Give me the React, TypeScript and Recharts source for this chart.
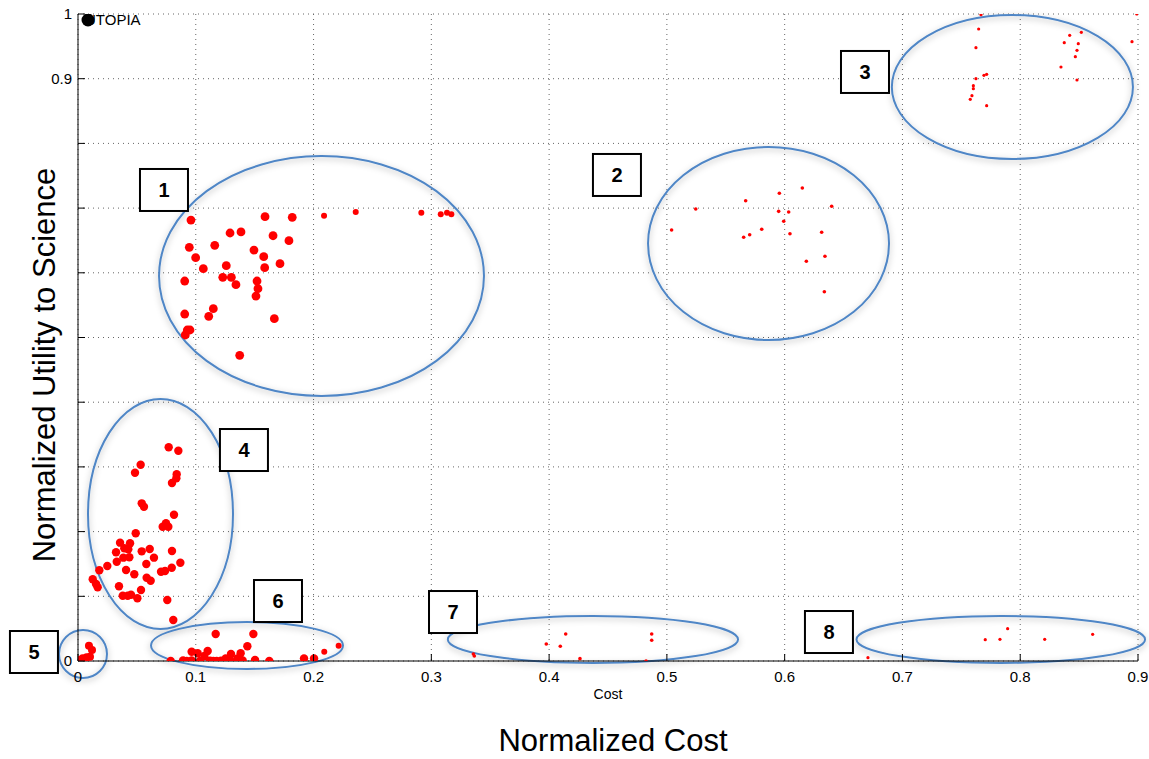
import { ScatterChart, Scatter, XAxis, YAxis, CartesianGrid, ReferenceArea, ReferenceDot } from 'recharts'

type P = [number, number]

const FONT = '"Liberation Sans", Arial, Helvetica, sans-serif'

const xTicks = [0, 0.1, 0.2, 0.3, 0.4, 0.5, 0.6, 0.7, 0.8, 0.9]
const xTickLabels = ['0', '0.1', '0.2', '0.3', '0.4', '0.5', '0.6', '0.7', '0.8', '0.9']
const yTicks = [0, 0.1, 0.2, 0.3, 0.4, 0.5, 0.6, 0.7, 0.8, 0.9, 1]
// labels 0.1-0.8 are hidden under the big axis title in the original
const yTickLabels = ['0', '', '', '', '', '', '', '', '', '0.9', '1']

const utopia: P[] = [[0.0085, 0.9907]]

// cluster 1 - big dots plus the thin tail to the right
const cluster1: P[] = [
  [0.0959, 0.6815], [0.0945, 0.6394], [0.0999, 0.6233], [0.1064, 0.6063], [0.0906, 0.5873],
  [0.1161, 0.6425], [0.1291, 0.6615], [0.1384, 0.6631], [0.1588, 0.6867], [0.1819, 0.6858],
  [0.1656, 0.6573], [0.1791, 0.6496], [0.1494, 0.6352], [0.1577, 0.6249], [0.1585, 0.6079],
  [0.1715, 0.6141], [0.1259, 0.611], [0.1229, 0.593], [0.1302, 0.593], [0.1341, 0.5816],
  [0.152, 0.5873], [0.1528, 0.5754], [0.1511, 0.5641], [0.0906, 0.5363], [0.1149, 0.5445],
  [0.111, 0.5328], [0.1667, 0.5291], [0.0928, 0.5116], [0.0951, 0.5116], [0.0911, 0.5039],
  [0.1373, 0.4725],
]
const cluster1Tail: P[] = [
  [0.2089, 0.6883], [0.2358, 0.694], [0.2915, 0.6929], [0.308, 0.6904], [0.3133, 0.6929], [0.317, 0.6904],
]

const cluster2: P[] = [
  [0.504, 0.6662], [0.5245, 0.6986], [0.5669, 0.7114], [0.5955, 0.7229], [0.615, 0.7311],
  [0.6399, 0.7028], [0.5949, 0.695], [0.6034, 0.694], [0.5992, 0.6796], [0.5805, 0.6672],
  [0.5703, 0.6589], [0.5652, 0.6549], [0.6045, 0.6604], [0.6314, 0.6626], [0.6342, 0.6255],
  [0.6184, 0.6178], [0.6337, 0.5708],
]

const cluster3: P[] = [
  [0.7667, 0.9989], [0.7647, 0.9768], [0.7624, 0.9479], [0.7624, 0.9], [0.7692, 0.9052],
  [0.7715, 0.9068], [0.7602, 0.8892], [0.7602, 0.8846], [0.759, 0.8737], [0.7576, 0.8681],
  [0.7715, 0.8583], [0.8374, 0.9557], [0.842, 0.9671], [0.8519, 0.9717], [0.8493, 0.9541],
  [0.8482, 0.9439], [0.8468, 0.934], [0.8346, 0.9181], [0.8482, 0.898], [0.8949, 0.9572],
  [0.8989, 1.0],
]

const cluster4: P[] = [
  [0.077, 0.3303], [0.0852, 0.325], [0.0532, 0.3034], [0.0484, 0.291], [0.0838, 0.2886],
  [0.0835, 0.2824], [0.0798, 0.2751], [0.0541, 0.2437], [0.056, 0.2385], [0.0815, 0.2261],
  [0.0747, 0.2128], [0.0719, 0.2076], [0.0767, 0.2076], [0.049, 0.1974], [0.0357, 0.1829],
  [0.0442, 0.1819], [0.0393, 0.1742], [0.0427, 0.1726], [0.0323, 0.168], [0.0541, 0.1695],
  [0.0609, 0.1731], [0.0798, 0.17], [0.0385, 0.1597], [0.0436, 0.1603], [0.0645, 0.1597],
  [0.0329, 0.1535], [0.058, 0.1499], [0.0869, 0.1519], [0.0181, 0.1402], [0.0249, 0.1468],
  [0.0408, 0.1406], [0.0796, 0.1442], [0.0705, 0.138], [0.0739, 0.1391], [0.0478, 0.134],
  [0.0583, 0.1287], [0.0617, 0.1241], [0.0125, 0.1263], [0.0153, 0.119], [0.0167, 0.1139],
  [0.0348, 0.1155], [0.0535, 0.1097], [0.038, 0.1009], [0.0422, 0.1009], [0.045, 0.1025],
  [0.0504, 0.0969], [0.0758, 0.0943], [0.0809, 0.0634],
]

const cluster5: P[] = [
  [0.0, 0.0015], [0.004, 0.0041], [0.0074, 0.0057], [0.0102, 0.0067], [0.0119, 0.017], [0.0093, 0.0237],
]

const cluster6: P[] = [
  [0.0787, 0.0], [0.0892, 0.001], [0.0923, 0.0], [0.0965, 0.0144], [0.1016, 0.0119],
  [0.1101, 0.0155], [0.1073, 0.0077], [0.0965, 0.001], [0.1036, 0.0], [0.1121, 0.0005],
  [0.1149, 0.0], [0.1177, 0.0], [0.1214, 0.0005], [0.1254, 0.0041], [0.129, 0.0015],
  [0.1299, 0.0108], [0.1353, 0.004], [0.1169, 0.0417], [0.1381, 0.0119], [0.1398, 0.001],
  [0.1438, 0.0227], [0.1489, 0.0417], [0.1503, 0.0015], [0.1624, 0.0], [0.1919, 0.0041],
  [0.2004, 0.0041],
]
const cluster6Tail: P[] = [[0.2091, 0.0144], [0.2213, 0.0237]]

const cluster7: P[] = [
  [0.3357, 0.0108], [0.3365, 0.0077], [0.3976, 0.0263], [0.4095, 0.0227], [0.4141, 0.0417],
  [0.4262, 0.0036], [0.4823, 0.0], [0.4871, 0.0417], [0.4871, 0.032],
]

const cluster8: P[] = [
  [0.6498, 0.0289], [0.6707, 0.0051], [0.7703, 0.0329], [0.7828, 0.0335], [0.7893, 0.0499],
  [0.8208, 0.0335], [0.8615, 0.0413],
]

// ellipse bounds: x1, x2, y1, y2
const ellipses: [number, number, number, number][] = [
  [0.0688, 0.3447, 0.4096, 0.7805],
  [0.484, 0.6886, 0.496, 0.7944],
  [0.691, 0.8957, 0.776, 0.9985],
  [0.0085, 0.1316, 0.0495, 0.405],
  [-0.0161, 0.0246, -0.0263, 0.0479],
  [0.062, 0.225, -0.0124, 0.0603],
  [0.314, 0.5604, -0.003, 0.0696],
  [0.661, 0.906, -0.003, 0.0696],
]

const boxLabels = ['1', '2', '3', '4', '5', '6', '7', '8']
const boxX = [0.073, 0.4576, 0.6682, 0.1409, -0.0374, 0.1698, 0.3184, 0.6376]
const boxY = [0.728, 0.7512, 0.9104, 0.3261, 0.0139, 0.0927, 0.0757, 0.0448]

const pts = (arr: P[]) => arr.map(([x, y]) => ({ x, y }))

const dot = (r: number, fill = '#ff0000') => (p: any) => (
  <circle cx={p.cx} cy={p.cy} r={r} fill={fill} />
)

function XTick({ x, y, index }: any) {
  return (
    <g>
      <line x1={x} x2={x} y1={y} y2={y - 7} stroke="#000" />
      <text x={x} y={y + 21} textAnchor="middle" fontSize={15} fill="#000" fontFamily={FONT}>
        {xTickLabels[index]}
      </text>
    </g>
  )
}

function YTick({ x, y, index }: any) {
  return (
    <g>
      <line x1={x} x2={x + 7} y1={y} y2={y} stroke="#000" />
      <text x={x - 6} y={y + 5} textAnchor="end" fontSize={15} fill="#000" fontFamily={FONT}>
        {yTickLabels[index]}
      </text>
    </g>
  )
}

export default function App() {
  return (
    <div style={{ position: 'absolute', left: 0, top: 0, width: 1149, height: 759, background: '#fff', fontFamily: FONT }}>
      <ScatterChart width={1149} height={759} margin={{ top: 14, right: 11, bottom: 58, left: 0 }}>
        <defs>
          <filter id="ellShadow" x="-20%" y="-20%" width="140%" height="140%">
            <feDropShadow dx="0" dy="2" stdDeviation="3" floodColor="#000" floodOpacity="0.3" />
          </filter>
        </defs>
        <CartesianGrid stroke="#666" strokeDasharray="1 4" />
        <XAxis
          type="number"
          dataKey="x"
          domain={[0, 0.9]}
          ticks={xTicks}
          allowDataOverflow
          height={40}
          tickSize={0}
          tickMargin={0}
          tickLine={false}
          axisLine={{ stroke: '#000' }}
          tick={<XTick />}
          interval={0}
        />
        <YAxis
          type="number"
          dataKey="y"
          domain={[0, 1]}
          ticks={yTicks}
          allowDataOverflow
          width={78}
          tickSize={0}
          tickMargin={0}
          tickLine={false}
          axisLine={{ stroke: '#000' }}
          tick={<YTick />}
          interval={0}
        />
        <Scatter data={pts(cluster1)} shape={dot(4.4)} isAnimationActive={false} />
        <Scatter data={pts(cluster1Tail)} shape={dot(3)} isAnimationActive={false} />
        <Scatter data={pts(cluster2)} shape={dot(1.8)} isAnimationActive={false} />
        <Scatter data={pts(cluster3)} shape={dot(1.6)} isAnimationActive={false} />
        <Scatter data={pts(cluster4)} shape={dot(4.2)} isAnimationActive={false} />
        <Scatter data={pts(cluster5)} shape={dot(4)} isAnimationActive={false} />
        <Scatter data={pts(cluster6)} shape={dot(4.2)} isAnimationActive={false} />
        <Scatter data={pts(cluster6Tail)} shape={dot(3)} isAnimationActive={false} />
        <Scatter data={pts(cluster7)} shape={dot(1.8)} isAnimationActive={false} />
        <Scatter data={pts(cluster8)} shape={dot(1.6)} isAnimationActive={false} />
        <Scatter
          data={pts(utopia)}
          isAnimationActive={false}
          shape={(p: any) => (
            <g>
              <text x={p.cx - 3} y={p.cy + 5} fontSize={15} fill="#000" fontFamily={FONT}>UTOPIA</text>
              <circle cx={p.cx} cy={p.cy} r={6.5} fill="#000" />
            </g>
          )}
        />
        {ellipses.map(([x1, x2, y1, y2], i) => (
          <ReferenceArea
            key={'e' + i}
            x1={x1}
            x2={x2}
            y1={y1}
            y2={y2}
            ifOverflow="visible"
            shape={(p: any) => (
              <ellipse
                cx={p.x + p.width / 2}
                cy={p.y + p.height / 2}
                rx={Math.abs(p.width) / 2}
                ry={Math.abs(p.height) / 2}
                fill="none"
                stroke="#4f86c6"
                strokeWidth={2}
                filter="url(#ellShadow)"
              />
            )}
          />
        ))}
        {boxLabels.map((lab, i) => (
          <ReferenceDot
            key={'b' + i}
            x={boxX[i]}
            y={boxY[i]}
            r={1}
            ifOverflow="visible"
            shape={(p: any) => (
              <g>
                <rect x={p.cx - 24} y={p.cy - 21} width={48} height={42} fill="#fff" stroke="#000" strokeWidth={2} />
                <text x={p.cx} y={p.cy + 7} textAnchor="middle" fontSize={20} fontWeight="bold" fill="#000" fontFamily={FONT}>
                  {lab}
                </text>
              </g>
            )}
          />
        ))}
      </ScatterChart>
      <svg width={1149} height={759} style={{ position: 'absolute', left: 0, top: 0, pointerEvents: 'none' }}>
        <text x={608} y={699} textAnchor="middle" fontSize={14} fill="#000" fontFamily={FONT}>Cost</text>
        <text x={613} y={751} textAnchor="middle" fontSize={31} fill="#000" fontFamily={FONT}>Normalized Cost</text>
        <text
          x={55}
          y={365}
          textAnchor="middle"
          fontSize={31}
          fill="#000"
          fontFamily={FONT}
          transform="rotate(-90 55 365)"
        >
          Normalized Utility to Science
        </text>
      </svg>
    </div>
  )
}
